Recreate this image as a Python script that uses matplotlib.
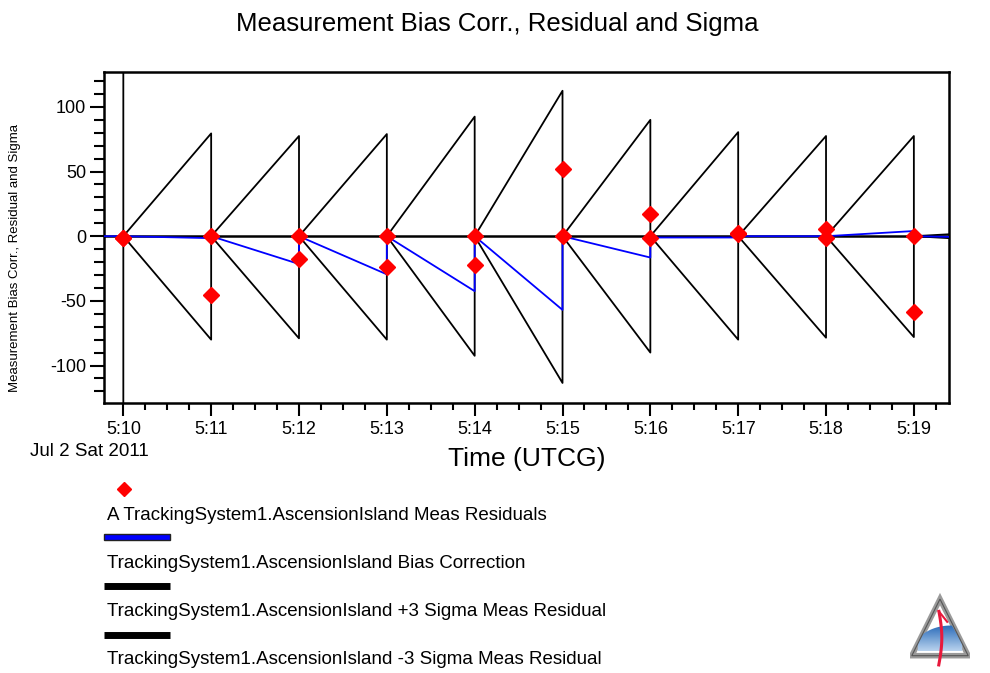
import numpy as np
import matplotlib
matplotlib.use("Agg")
import matplotlib.pyplot as plt
from matplotlib.lines import Line2D
from matplotlib.patches import Polygon, Rectangle
from matplotlib.colors import LinearSegmentedColormap
from matplotlib.ticker import MultipleLocator

plt.rcParams['font.family'] = ['Liberation Sans', 'DejaVu Sans']
plt.rcParams['axes.unicode_minus'] = False

# minutes after 5:00 UTCG, Jul 2 2011
minutes = [10, 11, 12, 13, 14, 15, 16, 17, 18, 19]
tick_labels = ["5:10", "5:11", "5:12", "5:13", "5:14", "5:15", "5:16", "5:17", "5:18", "5:19"]

# +/-3 sigma peak reached just before each reset (at 5:11 ... 5:19)
sigma_plus_peaks = [79.5, 77.5, 79, 92.5, 112.5, 90, 80.5, 77.5, 77.5]
sigma_minus_peaks = [-80, -79, -80, -92.5, -113.5, -90, -80, -78.5, -78]
sigma_tail = 1.5          # value at right edge after last reset

# bias correction: value reached at each minute before reset, and value after reset
bias_before = [-1.5, -21.5, -29.5, -42.5, -57, -16.5, -1, 0, 4]
bias_after = [0, 0, 0, 0, 0, -1, 0, 0, 0]

# residuals (two per pass)
resid_t = [10, 10, 11, 11, 12, 12, 13, 13, 14, 14, 15, 15, 16, 16, 17, 17, 18, 18, 19, 19]
resid_v = [-1.5, -1, 0, -45.5, 0, -17.5, 0, -24, 0, -22.5, 0, 52,
           -1.5, 17.5, 2.5, 1.5, 5.5, -1, 0, -58.5]

x_left, x_right = 9.78, 19.4

# build sawtooth paths
st = [minutes[0], minutes[0]]
sp = [1000, 0]
sm = [-1000, 0]
for m, p, n in zip(minutes[1:], sigma_plus_peaks, sigma_minus_peaks):
    st += [m, m]
    sp += [p, 0]
    sm += [n, 0]
st.append(x_right)
sp.append(sigma_tail)
sm.append(-sigma_tail)

bt = [x_left, minutes[0]]
bv = [0, 0]
for m, b, a in zip(minutes[1:], bias_before, bias_after):
    bt += [m, m]
    bv += [b, a]
bt.append(x_right)
bv.append(-0.5)

fig = plt.figure(figsize=(9.9, 6.73), dpi=100)
ax = fig.add_axes([104 / 990, 1 - 403 / 673, (949 - 104) / 990, (403 - 72) / 673])

ax.axhline(0, color="black", lw=1.8, zorder=2)
ax.plot(st, sp, color="black", lw=1.3, zorder=3)
ax.plot(st, sm, color="black", lw=1.3, zorder=3)
ax.plot(bt, bv, color="blue", lw=1.3, zorder=4)
ax.plot(resid_t, resid_v, ls="none", marker="D", ms=8, color="red", mec="red", zorder=5)

ax.set_xlim(x_left, x_right)
ax.set_ylim(-129, 127)
ax.set_xticks(minutes)
ax.set_xticklabels(tick_labels)
ax.xaxis.set_minor_locator(MultipleLocator(0.25))
ax.set_yticks([-100, -50, 0, 50, 100])
ax.yaxis.set_minor_locator(MultipleLocator(10))
ax.tick_params(axis="y", which="major", length=10, width=1.5, labelsize=13, pad=3)
ax.tick_params(axis="y", which="minor", length=7, width=1.5)
ax.tick_params(axis="x", which="major", length=9, width=1.5, labelsize=13, pad=4)
ax.tick_params(axis="x", which="minor", length=5, width=1.5)
for s in ax.spines.values():
    s.set_linewidth(1.8)

fig.text(497 / 990, 1 - 24 / 673, "Measurement Bias Corr., Residual and Sigma",
         ha="center", va="center", fontsize=18.5)
fig.text(15 / 990, 1 - 258 / 673, "Measurement Bias Corr., Residual and Sigma",
         ha="center", va="center", rotation=90, fontsize=9.5)
fig.text(30 / 990, 1 - 452 / 673, "Jul 2 Sat 2011", ha="left", va="center", fontsize=13.5)
fig.text(527 / 990, 1 - 459 / 673, "Time (UTCG)", ha="center", va="center", fontsize=19)

# legend block
leg_texts = ["A TrackingSystem1.AscensionIsland Meas Residuals",
             "TrackingSystem1.AscensionIsland Bias Correction",
             "TrackingSystem1.AscensionIsland +3 Sigma Meas Residual",
             "TrackingSystem1.AscensionIsland -3 Sigma Meas Residual"]
leg_text_y = [515, 563, 611, 660]
for t, y in zip(leg_texts, leg_text_y):
    fig.text(107 / 990, 1 - y / 673, t, ha="left", va="center", fontsize=13.5)
fig.add_artist(Line2D([124 / 990], [1 - 489 / 673], marker="D", ms=7, color="red", ls="none"))
fig.add_artist(Rectangle((104 / 990, 1 - 540 / 673), 66 / 990, 6 / 673,
                         facecolor="blue", edgecolor="#222222", lw=1))
fig.add_artist(Line2D([104 / 990, 170 / 990], [1 - 586 / 673] * 2, color="black", lw=5,
                      solid_capstyle="butt"))
fig.add_artist(Line2D([104 / 990, 170 / 990], [1 - 635 / 673] * 2, color="black", lw=5,
                      solid_capstyle="butt"))

# logo
lax = fig.add_axes([910 / 990, 1 - 668 / 673, 60 / 990, 80 / 673])
lax.axis("off")
tri = [[0.03, 0.2], [0.97, 0.2], [0.5, 1.12]]
lax.add_patch(Polygon(tri, closed=True, facecolor="white", edgecolor="#9a9a9a",
                      lw=4, joinstyle="miter", zorder=1))
dome_x = np.linspace(0.13, 0.87, 40)
dome_y = 0.27 + 0.42 * np.sqrt(np.clip(1 - ((dome_x - 0.68) / 0.62) ** 2, 0, 1))
dome_y = np.minimum(dome_y, 0.27 + (1 - np.abs(dome_x - 0.5) / 0.45) * 0.75)
dome = Polygon(np.column_stack([np.r_[dome_x, 0.87, 0.13], np.r_[dome_y, 0.27, 0.27]]),
               closed=True, facecolor="none", edgecolor="none")
lax.add_patch(dome)
grad = np.linspace(0, 1, 64).reshape(-1, 1)
im = lax.imshow(grad, extent=[0.1, 0.9, 0.27, 0.72], origin="lower", aspect="auto",
                cmap=LinearSegmentedColormap.from_list("d", ["#b9d3ee", "#1f63b5"]), zorder=2)
im.set_clip_path(dome)
lax.add_patch(Polygon(tri, closed=True, facecolor="none", edgecolor="#555555",
                      lw=0.8, joinstyle="miter", zorder=3))
cy = np.linspace(0.05, 0.92, 30)
cx = 0.47 + 0.06 * np.sin(cy * 3.2)
lax.plot(cx, cy, color="#e8193c", lw=2.2, zorder=4)
lax.plot([cx[-1], 0.62], [0.92, 0.75], color="#e8193c", lw=1.5, zorder=4)
lax.set_xlim(0, 1)
lax.set_ylim(0, 1.3)

fig.savefig("out.png", dpi=100)
